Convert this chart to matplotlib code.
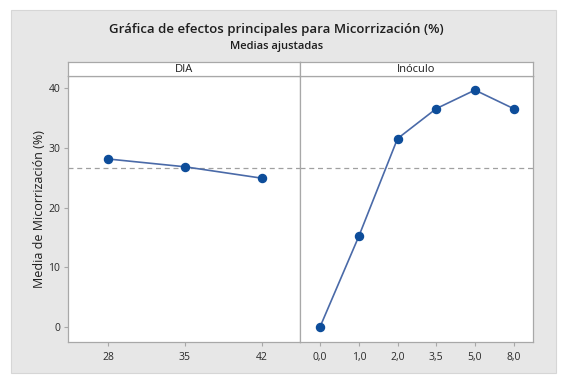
import matplotlib
matplotlib.use("Agg")
import matplotlib.pyplot as plt
from matplotlib.patches import Rectangle

plt.rcParams['font.family'] = ['Open Sans', 'DejaVu Sans']

title = "Gráfica de efectos principales para Micorrización (%)"
subtitle = "Medias ajustadas"
ylabel = "Media de Micorrización (%)"

dia_levels = ["28", "35", "42"]
dia_means = [28.1, 26.8, 24.9]
inoc_levels = ["0,0", "1,0", "2,0", "3,5", "5,0", "8,0"]
inoc_means = [0.1, 15.2, 31.5, 36.5, 39.6, 36.5]
grand_mean = 26.6
yticks = [0, 10, 20, 30, 40]

W, H = 567, 382
fig = plt.figure(figsize=(W/100, H/100), dpi=100)
fig.patch.set_facecolor('white')
fig.patches.append(Rectangle((11/W, 1 - 373/H), 545/W, 363/H, transform=fig.transFigure,
                             facecolor='#e7e7e7', edgecolor='#d6d6d6', lw=0.8, zorder=-5))

fig.text(0.5*(110+443)/W, 1 - 30/H, title, ha='center', va='center', fontsize=9.5,
         fontweight='semibold', color='#1e1e1e')
fig.text(0.5*(110+443)/W, 1 - 46/H, subtitle, ha='center', va='center', fontsize=8,
         fontweight='semibold', color='#1e1e1e')

ax_bottom, ax_top = 342, 76
strip_top = 62
left_x0, mid_x, right_x1 = 68, 300, 533

def add_panel(x0, x1, levels, means, name, first):
    ax = fig.add_axes([x0/W, 1 - ax_bottom/H, (x1-x0)/W, (ax_bottom-ax_top)/H])
    ax.set_facecolor('white')
    xs = list(range(len(levels)))
    ax.axhline(grand_mean, color='#a0a0a0', ls=(0, (4, 3)), lw=0.9, zorder=1)
    ax.plot(xs, means, color='#4a6aa8', lw=1.2, marker='o', markersize=5.8,
            markerfacecolor='#0d4d9a', markeredgecolor='#0d4d9a', zorder=3)
    ax.set_xlim(-0.52, len(levels) - 0.5)
    ax.set_ylim(-2.45, 41.95)
    ax.set_xticks(xs)
    ax.set_xticklabels(levels)
    ax.set_yticks(yticks)
    for s in ax.spines.values():
        s.set_color('#a8a8a8')
        s.set_linewidth(0.9)
    ax.tick_params(axis='both', colors='#a8a8a8', labelcolor='#2a2a2a', labelsize=7.5,
                   length=3, width=0.8, pad=2.5)
    ax.tick_params(axis='x', pad=4)
    if first:
        ax.set_ylabel(ylabel, fontsize=9, color='#1e1e1e', labelpad=2)
    else:
        ax.tick_params(axis='y', left=False, labelleft=False)
    sax = fig.add_axes([x0/W, 1 - ax_top/H, (x1-x0)/W, (ax_top-strip_top)/H])
    sax.set_facecolor('white')
    sax.set_xticks([]); sax.set_yticks([])
    for s in sax.spines.values():
        s.set_color('#a8a8a8')
        s.set_linewidth(0.9)
    sax.text(0.5, 0.5, name, ha='center', va='center', fontsize=8, color='#1e1e1e',
             transform=sax.transAxes)
    return ax

add_panel(left_x0, mid_x, dia_levels, dia_means, "DIA", True)
add_panel(mid_x, right_x1, inoc_levels, inoc_means, "Inóculo", False)

fig.savefig("out.png", dpi=100, facecolor=fig.get_facecolor())
